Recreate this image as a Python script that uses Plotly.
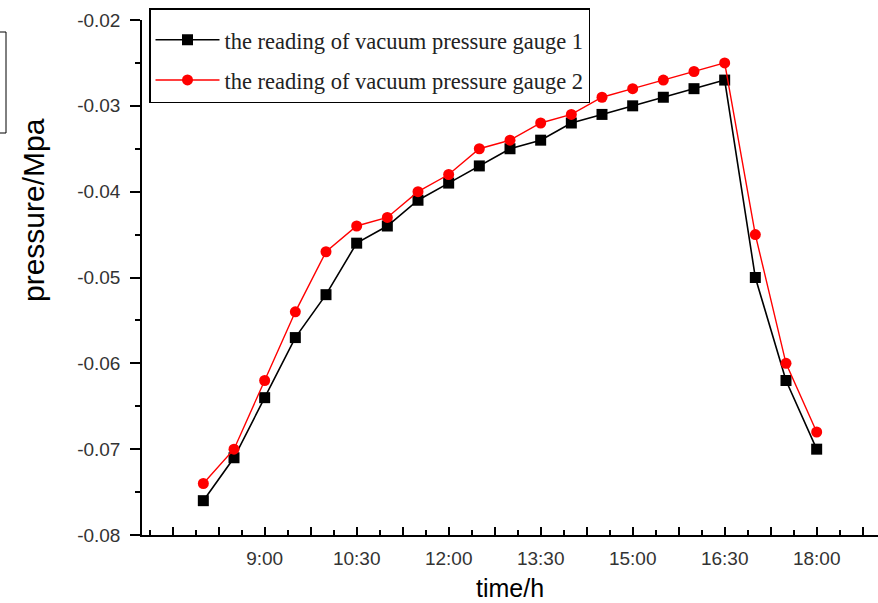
import plotly.graph_objects as go
import numpy as np

# ---- data ----
times = ["8:00", "8:30", "9:00", "9:30", "10:00", "10:30", "11:00", "11:30",
         "12:00", "12:30", "13:00", "13:30", "14:00", "14:30", "15:00", "15:30",
         "16:00", "16:30", "17:00", "17:30", "18:00"]
gauge1 = [-0.076, -0.071, -0.064, -0.057, -0.052, -0.046, -0.044, -0.041,
          -0.039, -0.037, -0.035, -0.034, -0.032, -0.031, -0.030, -0.029,
          -0.028, -0.027, -0.050, -0.062, -0.070]
gauge2 = [-0.074, -0.070, -0.062, -0.054, -0.047, -0.044, -0.043, -0.040,
          -0.038, -0.035, -0.034, -0.032, -0.031, -0.029, -0.028, -0.027,
          -0.026, -0.025, -0.045, -0.060, -0.068]
x_tick_labels = ["9:00", "10:30", "12:00", "13:30", "15:00", "16:30", "18:00"]
y_tick_values = [-0.08, -0.07, -0.06, -0.05, -0.04, -0.03, -0.02]
series_names = ["the reading of vacuum pressure gauge 1",
                "the reading of vacuum pressure gauge 2"]
x_title = "time/h"
y_title = "pressure/Mpa"


def to_hours(s):
    h, m = s.split(":")
    return int(h) + int(m) / 60.0


x = [to_hours(t) for t in times]
label_pos = [to_hours(t) for t in x_tick_labels]

# long (major) ticks every 45 min; labels only every 1.5 h
major_vals = list(np.arange(7.5, 19.0, 0.75))
major_text = []
for v in major_vals:
    txt = ""
    for lp, lt in zip(label_pos, x_tick_labels):
        if abs(lp - v) < 1e-6:
            txt = lt
    major_text.append(txt)

fig = go.Figure()
fig.add_trace(go.Scatter(
    x=x, y=gauge1, name=series_names[0], mode="lines+markers",
    line=dict(color="#000000", width=1.6),
    marker=dict(symbol="square", size=11, color="#000000"),
    legendgroup="g1"))
fig.add_trace(go.Scatter(
    x=x, y=gauge2, name=series_names[1], mode="lines+markers",
    line=dict(color="#ff0000", width=1.4),
    marker=dict(symbol="circle", size=11, color="#ff0000"),
    legendgroup="g2"))

tick_font = dict(family="Liberation Sans, Arial", size=19, color="#333333")

PW, PH, L, T = 736, 515, 142, 20  # plot area size / offsets in px

fig.update_layout(
    width=878, height=603,
    margin=dict(l=L, r=0, t=T, b=68),
    paper_bgcolor="white", plot_bgcolor="white",
    showlegend=True,
    legend=dict(
        x=(149 - L) / PW, y=1 + (T - 8) / PH, xanchor="left", yanchor="top",
        bgcolor="white", bordercolor="#000000", borderwidth=1.5,
        font=dict(family="Liberation Serif, Times New Roman", size=22.5, color="#222222"),
        tracegroupgap=8, itemwidth=64,
        title=dict(text=" ", font=dict(size=7)),
    ),
    xaxis=dict(
        range=[7, 19], tickmode="array", tickvals=major_vals, ticktext=major_text,
        ticks="inside", ticklen=8, tickwidth=1.5, tickcolor="#000000",
        showline=True, linecolor="#000000", linewidth=1.5,
        showgrid=False, zeroline=False, tickfont=tick_font,
        ticklabelstandoff=5,
        minor=dict(ticks="inside", tick0=7.125, dtick=0.375, ticklen=5,
                   tickwidth=1.5, tickcolor="#000000", showgrid=False),
        title=dict(text=x_title, font=dict(family="Liberation Sans, Arial", size=25, color="#000000"),
                   standoff=12),
    ),
    yaxis=dict(
        range=[-0.08, -0.02], tickmode="array", tickvals=y_tick_values,
        ticktext=["%.2f" % v for v in y_tick_values],
        ticks="outside", ticklen=10, tickwidth=1.5, tickcolor="#000000",
        showline=True, linecolor="#000000", linewidth=1.5,
        showgrid=False, zeroline=False, tickfont=tick_font,
        ticklabelstandoff=6,
        minor=dict(ticks="outside", dtick=0.005, tick0=-0.08, ticklen=5,
                   tickwidth=1.5, tickcolor="#000000", showgrid=False),
    ),
    annotations=[dict(
        text=y_title, textangle=-90, showarrow=False,
        xref="paper", yref="paper", x=(33 - L) / PW, y=1 - (210 - T) / PH,
        xanchor="center", yanchor="middle",
        font=dict(family="Liberation Sans, Arial", size=30, color="#000000"))],
    shapes=[
        dict(type="rect", xref="paper", yref="paper",
             x0=(-10 - L) / PW, x1=(6 - L) / PW,
             y0=1 - (133 - T) / PH, y1=1 - (32 - T) / PH,
             line=dict(color="#000000", width=1)),
        dict(type="line", xref="paper", yref="paper",
             x0=(131 - L) / PW, x1=0, y0=0, y1=0,
             line=dict(color="#000000", width=1.5)),
    ],
)

fig.write_html("out.html")
